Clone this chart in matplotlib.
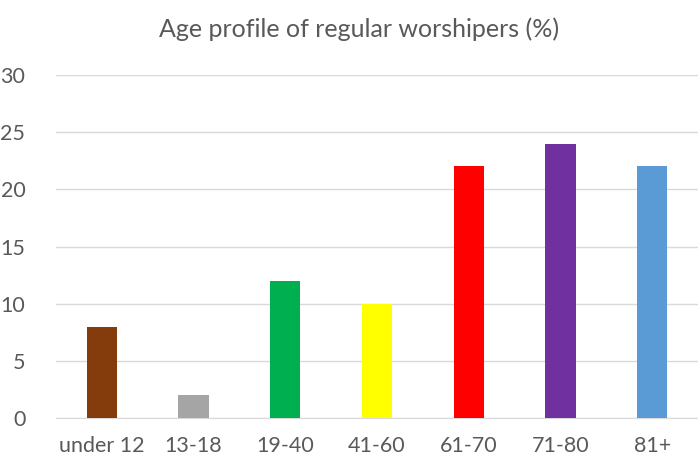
import matplotlib
matplotlib.use("Agg")
import matplotlib.pyplot as plt

# data
age_groups = ["under 12", "13-18", "19-40", "41-60", "61-70", "71-80", "81+"]
percent = [8, 2, 12, 10, 22, 24, 22]
bar_colors = ["#843C0C", "#A5A5A5", "#00B050", "#FFFF00", "#FF0000", "#7030A0", "#5B9BD5"]
y_ticks = [0, 5, 10, 15, 20, 25, 30]

plt.rcParams['font.family'] = ['Lato', 'DejaVu Sans']

fig = plt.figure(figsize=(6.98, 4.57), dpi=100)
ax = fig.add_axes([0.080, 0.085, 0.92, 0.751])

ax.bar(range(len(age_groups)), percent, width=0.33, color=bar_colors, zorder=3)

ax.set_xlim(-0.5, len(age_groups) - 0.5)
ax.set_ylim(0, 30)
ax.set_yticks(y_ticks)
ax.set_xticks(range(len(age_groups)))
ax.set_xticklabels(age_groups)
ax.tick_params(axis='both', length=0, labelsize=15.5, colors='#595959')
ax.tick_params(axis='x', pad=13)
ax.tick_params(axis='y', pad=22)

ax.grid(axis='y', color='#D9D9D9', linewidth=1, zorder=0)
for side in ['top', 'right', 'left']:
    ax.spines[side].set_visible(False)
ax.spines['bottom'].set_color('#D9D9D9')

fig.text(0.515, 0.937, "Age profile of regular worshipers (%)", ha='center', va='center',
         fontsize=18, color='#595959')

fig.savefig("out.png", dpi=100)
